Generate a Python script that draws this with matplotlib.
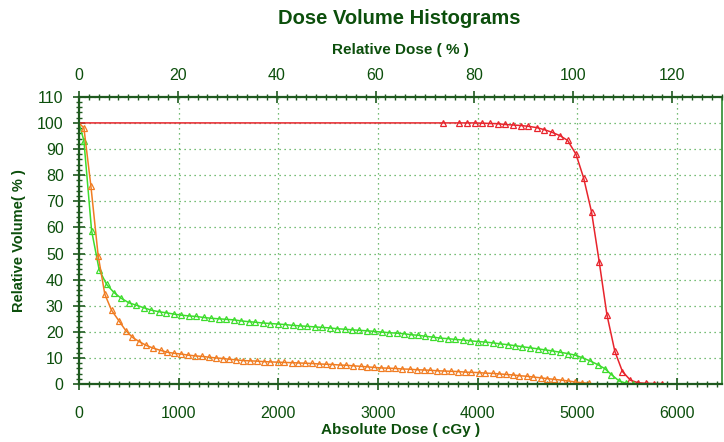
import matplotlib as mpl
mpl.use('Agg')

import matplotlib.pyplot as plt
from matplotlib.ticker import MultipleLocator

# dose in cGy, volume in %
red_dose = [0, 3653, 3810, 3893, 3970, 4043, 4120, 4200, 4277, 4357, 4433, 4510,
            4593, 4670, 4747, 4827, 4903, 4987, 5063, 5143, 5220, 5297, 5377,
            5453, 5533, 5610, 5687, 5770, 5850]
red_vol = [100, 100, 100, 100, 100, 99.9, 99.8, 99.7, 99.4, 99.2, 99.0, 98.7,
           98.2, 97.4, 96.4, 95.1, 93.3, 88.0, 79.0, 65.9, 46.8, 26.6, 12.5,
           4.8, 1.5, 0.5, 0.3, 0.2, 0.2]

green_dose = [0, 50, 127, 203, 277, 353, 427, 503, 577, 653, 727, 803, 877, 953,
              1027, 1103, 1177, 1253, 1327, 1403, 1477, 1553, 1627, 1703, 1767,
              1843, 1917, 1993, 2067, 2143, 2217, 2293, 2367, 2443, 2517, 2593,
              2667, 2740, 2813, 2890, 2960, 3037, 3110, 3187, 3260, 3333, 3403,
              3477, 3550, 3627, 3703, 3777, 3850, 3923, 4000, 4077, 4150, 4227,
              4300, 4377, 4450, 4527, 4603, 4677, 4750, 4827, 4903, 4977, 5050,
              5127, 5203, 5277, 5343, 5420, 5493, 5560]
green_vol = [100, 93.2, 58.8, 43.8, 38.2, 35.0, 32.8, 31.1, 30.2, 29.2, 28.3,
             27.7, 27.3, 26.8, 26.4, 26.1, 25.9, 25.5, 25.2, 25.0, 24.8, 24.6,
             24.2, 23.9, 23.7, 23.4, 23.2, 23.0, 22.8, 22.5, 22.3, 22.1, 21.9,
             21.7, 21.5, 21.2, 21.0, 20.8, 20.6, 20.4, 20.2, 19.9, 19.7, 19.5,
             19.3, 18.9, 18.7, 18.3, 18.0, 17.6, 17.4, 17.1, 16.9, 16.6, 16.3,
             16.1, 15.8, 15.4, 15.1, 14.7, 14.3, 13.9, 13.5, 13.1, 12.7, 12.2,
             11.7, 11.1, 10.1, 8.9, 7.5, 5.9, 3.6, 1.2, 0.3, 0.1]

orange_dose = [0, 50, 120, 193, 260, 327, 400, 470, 537, 603, 677, 743, 820, 887,
               953, 1027, 1093, 1167, 1237, 1303, 1377, 1443, 1510, 1577, 1650,
               1717, 1787, 1853, 1920, 1993, 2060, 2133, 2200, 2270, 2337, 2410,
               2477, 2543, 2617, 2683, 2753, 2827, 2893, 2960, 3027, 3100, 3170,
               3243, 3317, 3387, 3460, 3527, 3593, 3667, 3733, 3803, 3870, 3937,
               4010, 4077, 4150, 4217, 4283, 4353, 4420, 4493, 4560, 4633, 4700,
               4770, 4843, 4910, 4977, 5050, 5117]
orange_vol = [100, 98.1, 75.9, 49.2, 34.4, 28.3, 24.3, 20.5, 17.9, 16.3, 14.8,
              13.8, 12.9, 12.2, 11.8, 11.5, 11.1, 10.8, 10.6, 10.3, 10.0, 9.8,
              9.5, 9.3, 9.0, 8.9, 8.8, 8.6, 8.5, 8.4, 8.3, 8.2, 8.1, 8.0, 7.9,
              7.7, 7.6, 7.5, 7.3, 7.2, 7.0, 6.8, 6.6, 6.4, 6.2, 6.1, 6.0, 5.8,
              5.7, 5.5, 5.4, 5.3, 5.1, 5.0, 4.9, 4.8, 4.6, 4.5, 4.4, 4.2, 4.1,
              3.9, 3.7, 3.5, 3.2, 3.0, 2.7, 2.4, 2.1, 1.8, 1.5, 1.2, 0.8, 0.5, 0.3]

presc = 4960.0   # cGy at 100 %
dmax = 6450.0

txt = '#0c4f0c'
axc = '#1f5a1f'

plt.rcParams['font.family'] = ['Liberation Sans', 'DejaVu Sans']

fig = plt.figure(figsize=(7.24, 4.42), dpi=100)
ax = fig.add_axes([0.109, 0.131, 0.888, 0.650])

for d, v, c in [(red_dose, red_vol, '#e8242c'),
                (green_dose, green_vol, '#3ddc2c'),
                (orange_dose, orange_vol, '#f07c22')]:
    ax.plot(d, v, color=c, lw=1.1, marker='^', markersize=4.5,
            markerfacecolor='none', markeredgecolor=c, markeredgewidth=0.9,
            markevery=list(range(1, len(d))))

ax.set_xlim(0, dmax)
ax.set_ylim(0, 110)
ax.xaxis.set_major_locator(MultipleLocator(1000))
ax.xaxis.set_minor_locator(MultipleLocator(100))
ax.yaxis.set_major_locator(MultipleLocator(10))
ax.yaxis.set_minor_locator(MultipleLocator(2))
ax.grid(True, which='major', color='#4aa84a', linestyle=(0, (1, 3)), lw=0.9)

for s in ['left', 'bottom', 'top']:
    ax.spines[s].set_color(axc)
    ax.spines[s].set_linewidth(1.6)
ax.spines['right'].set_color('#2e8b2e')
ax.spines['right'].set_linewidth(1.2)

ax.tick_params(which='major', direction='inout', length=8, width=1.2,
               color=axc, labelcolor=txt, labelsize=11.5)
ax.tick_params(which='minor', direction='inout', length=5, width=1.0, color=axc)
ax.tick_params(axis='x', which='major', pad=12)
ax.tick_params(axis='y', which='major', pad=7)
ax.tick_params(axis='y', right=False)

ax.set_xlabel('Absolute Dose ( cGy )', fontsize=11, fontweight='bold', color=txt)
ax.xaxis.set_label_coords(0.5, -0.135)
ax.set_ylabel('Relative Volume( % )', fontsize=10.5, fontweight='bold',
              color=txt, labelpad=8)

ax2 = ax.twiny()
ax2.set_xlim(0, dmax / presc * 100)
ax2.xaxis.set_major_locator(MultipleLocator(20))
ax2.xaxis.set_minor_locator(MultipleLocator(2))
ax2.tick_params(which='major', direction='inout', length=8, width=1.2,
                color=axc, labelcolor=txt, labelsize=11.5, pad=6)
ax2.tick_params(which='minor', direction='inout', length=5, width=1.0, color=axc)
for s in ax2.spines.values():
    s.set_visible(False)
ax2.set_xlabel('Relative Dose ( % )', fontsize=11, fontweight='bold',
               color=txt, labelpad=10)

fig.text(0.551, 0.958, 'Dose Volume Histograms', ha='center', va='center',
         fontsize=14.5, fontweight='bold', color=txt)

plt.savefig('out.png', dpi=100)
